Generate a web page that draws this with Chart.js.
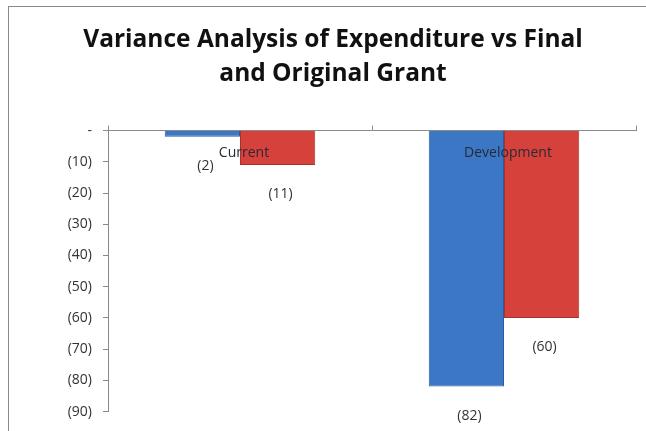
<!DOCTYPE html>
<html>
<head>
<meta charset="utf-8">
<script src="https://cdn.jsdelivr.net/npm/chart.js@4"></script>
<style>
  html, body { margin: 0; padding: 0; background: #fff; }
  #wrap { position: relative; width: 646px; height: 431px; }
  #frame { position: absolute; left: 8px; top: 6px; right: -2px; bottom: -2px; border-left: 1.5px solid #8a8a8a; border-top: 1.5px solid #8a8a8a; }
  canvas { position: absolute; left: 0; top: 0; }
</style>
</head>
<body>
<div id="wrap">
  <div id="frame"></div>
  <canvas id="chart" width="646" height="431"></canvas>
</div>
<script>
const categories = ['Current', 'Development'];
const finalGrant = [-2, -82];
const originalGrant = [-11, -60];
const seriesNames = ['Final Grant', 'Original Grant'];
const titleLines = ['Variance Analysis of Expenditure vs Final', 'and Original Grant'];

const fontFamily = "'Open Sans', 'Liberation Sans', sans-serif";
const textColor = '#333';

const fmt = (v) => v === 0 ? '-' : '(' + Math.abs(v) + ')';

const categoryLabels = {
    id: 'categoryLabels',
    afterDatasetsDraw(chart) {
        const ctx = chart.ctx;
        const x = chart.scales.x;
        const top = chart.chartArea.top;
        ctx.save();
        ctx.font = '14px ' + fontFamily;
        ctx.fillStyle = '#262b38';
        ctx.textAlign = 'center';
        ctx.textBaseline = 'middle';
        categories.forEach((c, i) => {
            ctx.fillText(c, x.getPixelForValue(i) + 4, top + 22);
        });
        ctx.restore();
    }
};

const valueLabels = {
    id: 'valueLabels',
    afterDatasetsDraw(chart) {
        const ctx = chart.ctx;
        ctx.save();
        ctx.font = '14px ' + fontFamily;
        ctx.fillStyle = textColor;
        ctx.textAlign = 'center';
        ctx.textBaseline = 'middle';
        chart.data.datasets.forEach((ds, di) => {
            const meta = chart.getDatasetMeta(di);
            meta.data.forEach((bar, i) => {
                ctx.fillText(fmt(ds.data[i]), bar.x + 3, bar.y + 29);
            });
        });
        ctx.restore();
    }
};

new Chart(document.getElementById('chart'), {
    type: 'bar',
    data: {
        labels: categories,
        datasets: [
            {
                label: seriesNames[0],
                data: finalGrant,
                backgroundColor: '#3b77c5',
                borderColor: '#2d5c9c',
                borderWidth: 1
            },
            {
                label: seriesNames[1],
                data: originalGrant,
                backgroundColor: '#d7413c',
                borderColor: '#a5332f',
                borderWidth: 1
            }
        ]
    },
    options: {
        responsive: false,
        animation: false,
        layout: { padding: { left: 20, right: 0, top: 0, bottom: 14 } },
        categoryPercentage: 0.57,
        barPercentage: 1,
        plugins: {
            legend: { display: false },
            tooltip: { enabled: false },
            title: {
                display: true,
                text: titleLines,
                color: '#111',
                font: { family: fontFamily, size: 24.5, weight: 'bold', lineHeight: 1.4 },
                padding: { top: 23, bottom: 34 }
            }
        },
        scales: {
            x: {
                position: 'top',
                grid: { offset: true, drawOnChartArea: false, tickLength: 5, color: '#8a8a8a' },
                border: { color: '#8a8a8a' },
                ticks: { display: false }
            },
            y: {
                min: -90,
                max: 0,
                ticks: {
                    stepSize: 10,
                    callback: fmt,
                    color: textColor,
                    font: { family: fontFamily, size: 14 },
                    padding: 11
                },
                grid: { drawOnChartArea: false, tickLength: 5, color: '#8a8a8a' },
                border: { color: '#8a8a8a' },
                afterFit(scale) { scale.width = 88; }
            },
            // empty spacer so the plot stops short of the right edge
            spacer: {
                type: 'linear',
                position: 'right',
                ticks: { display: false },
                grid: { display: false },
                border: { display: false },
                afterFit(scale) { scale.width = 10; }
            }
        }
    },
    plugins: [categoryLabels, valueLabels]
});
</script>
</body>
</html>
